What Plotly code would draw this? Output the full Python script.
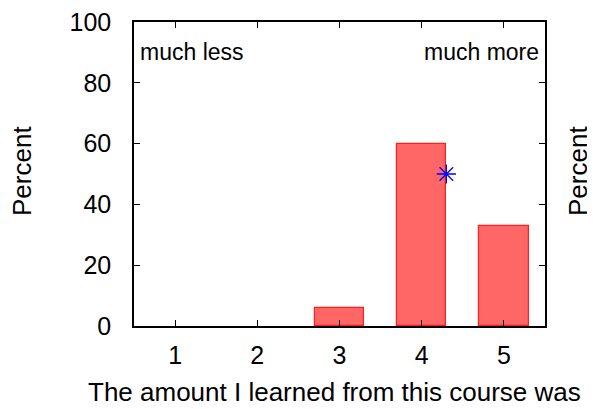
import plotly.graph_objects as go

categories = [1, 2, 3, 4, 5]
percent = [0, 0, 6, 60, 33]
mean_x = [4.3]
mean_y = [50]
x_ticks = [1, 2, 3, 4, 5]
y_ticks = [0, 20, 40, 60, 80, 100]

FONT = "Liberation Sans, Arial, sans-serif"

# plot area in window pixels (page body has an 8px margin)
PL, PR, PT, PB = 134, 545, 22, 326
W, H = 595 - 8, 410 - 8


def px(x):
    return (x - PL) / (PR - PL)


def py(y):
    return (PB - y) / (PB - PT)


fig = go.Figure()
fig.add_trace(go.Bar(
    x=categories, y=percent, width=0.6,
    marker=dict(color="rgb(255,102,102)",
                line=dict(color="rgb(255,30,30)",
                          width=[1.2 if v > 0 else 0 for v in percent])),
    showlegend=False,
))
fig.add_trace(go.Scatter(
    x=mean_x, y=mean_y, mode="markers",
    marker=dict(symbol="asterisk-open", size=16, color="blue", line=dict(color="blue", width=1.3)),
    showlegend=False,
))

fig.update_layout(
    width=W, height=H,
    margin=dict(l=PL - 8, r=595 - PR, t=PT - 8, b=410 - PB),
    plot_bgcolor="white", paper_bgcolor="white",
    font=dict(family=FONT, size=25, color="black"),
    bargap=0,
    xaxis=dict(
        range=[0.5, 5.5], tickvals=x_ticks, ticks="inside", ticklen=6,
        tickcolor="black", showline=True, linecolor="black", linewidth=1.5,
        mirror="ticks", showgrid=False, zeroline=False, ticklabelstandoff=6,
        tickfont=dict(size=25), ticklabeloverflow="allow", automargin=False,
    ),
    yaxis=dict(
        range=[0, 100], tickvals=y_ticks, ticks="inside", ticklen=6,
        tickcolor="black", showline=True, linecolor="black", linewidth=1.5,
        mirror="ticks", showgrid=False, zeroline=False, ticklabelstandoff=16,
        tickfont=dict(size=25), ticklabeloverflow="allow", automargin=False,
    ),
    annotations=[
        dict(text="much less", x=0.55, y=90, xref="x", yref="y", xanchor="left",
             yanchor="middle", showarrow=False, font=dict(size=23)),
        dict(text="much more", x=5.45, y=90, xref="x", yref="y", xanchor="right",
             yanchor="middle", showarrow=False, font=dict(size=23)),
        dict(text="The amount I learned from this course was", x=px(334), y=py(392),
             xref="paper", yref="paper", xanchor="center", yanchor="middle",
             showarrow=False, font=dict(size=26)),
        dict(text="Percent", x=px(22), y=py(171), xref="paper", yref="paper",
             xanchor="center", yanchor="middle",
             showarrow=False, textangle=-90, font=dict(size=26)),
        dict(text="Percent", x=px(578), y=py(171), xref="paper", yref="paper",
             xanchor="center", yanchor="middle",
             showarrow=False, textangle=-90, font=dict(size=26)),
    ],
)

fig.write_html("out.html")
